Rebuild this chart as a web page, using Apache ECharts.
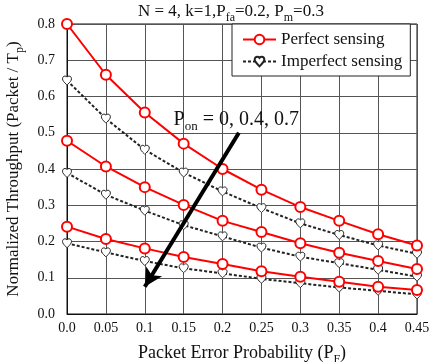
<!DOCTYPE html>
<html>
<head>
<meta charset="utf-8">
<script src="https://cdn.jsdelivr.net/npm/echarts@6/dist/echarts.min.js"></script>
<style>
  html, body { margin: 0; padding: 0; background: #fff; }
  #chart { width: 430px; height: 362px; }
</style>
</head>
<body>
<div id="chart"></div>
<script>
// packet error probability (x) and its tick labels
const xValues = [0, 0.05, 0.1, 0.15, 0.2, 0.25, 0.3, 0.35, 0.4, 0.45];
const xLabels = ['0.0', '0.05', '0.1', '0.15', '0.2', '0.25', '0.3', '0.35', '0.4', '0.45'];

// perfect sensing, Pon = 0, 0.4, 0.7
const perfect0 = [0.80, 0.66, 0.556, 0.47, 0.40, 0.343, 0.295, 0.257, 0.22, 0.189];
const perfect4 = [0.478, 0.407, 0.35, 0.301, 0.257, 0.226, 0.195, 0.169, 0.146, 0.124];
const perfect7 = [0.241, 0.207, 0.181, 0.157, 0.138, 0.118, 0.103, 0.089, 0.075, 0.066];

// imperfect sensing, Pon = 0, 0.4, 0.7
const imperfect0 = [0.644, 0.539, 0.453, 0.39, 0.338, 0.292, 0.25, 0.218, 0.189, 0.166];
const imperfect4 = [0.389, 0.329, 0.285, 0.245, 0.214, 0.183, 0.158, 0.14, 0.122, 0.103];
const imperfect7 = [0.195, 0.17, 0.146, 0.126, 0.112, 0.097, 0.085, 0.073, 0.064, 0.054];

// arrow annotation (data coords)
const arrowFrom = [0.221, 0.50];
const arrowTo = [0.10, 0.075];

const FONT = '"Liberation Serif", "DejaVu Serif", serif';
const HEART = 'path://M12 21.35l-1.45-1.32C5.4 15.36 2 12.28 2 8.5 2 5.42 4.42 3 7.5 3c1.74 0 3.41.81 4.5 2.09C13.09 3.81 14.76 3 16.5 3 19.58 3 22 5.42 22 8.5c0 3.78-3.4 6.86-8.55 11.54L12 21.35z';

const pairs = ys => xValues.map((x, i) => [x, ys[i]]);

function perfectSeries(ys) {
    return {
        name: 'Perfect sensing',
        type: 'line',
        data: pairs(ys),
        symbol: 'emptyCircle',
        symbolSize: 10,
        lineStyle: { color: '#ff0000', width: 2 },
        itemStyle: { color: '#ff0000', borderWidth: 2 },
        z: 4
    };
}

function imperfectSeries(ys) {
    return {
        name: 'Imperfect sensing',
        type: 'line',
        data: pairs(ys),
        symbol: HEART,
        symbolSize: 9,
        lineStyle: { color: '#222', width: 2, type: [3, 2] },
        itemStyle: { color: '#fff', borderColor: '#222', borderWidth: 1 },
        z: 3
    };
}

const chart = echarts.init(document.getElementById('chart'));

const sub = { fontSize: 11, verticalAlign: 'bottom', padding: [0, 0, -4, 0], fontFamily: FONT, color: '#111' };

const option = {
    backgroundColor: '#fff',
    animation: false,
    textStyle: { fontFamily: FONT },
    title: {
        text: 'N = 4, k=1,P{s|fa}=0.2, P{s|m}=0.3',
        left: 138,
        top: 3,
        padding: 0,
        textStyle: {
            fontFamily: FONT, fontSize: 17, fontWeight: 'normal', color: '#111',
            rich: { s: Object.assign({}, sub, { fontSize: 12 }) }
        }
    },
    legend: {
        data: ['Perfect sensing', 'Imperfect sensing'],
        orient: 'vertical',
        left: 232,
        top: 24,
        width: 185,
        padding: [7, 8, 6, 10],
        itemGap: 5,
        itemWidth: 33,
        itemHeight: 12,
        backgroundColor: '#fff',
        borderColor: '#222',
        borderWidth: 1,
        borderRadius: 0,
        textStyle: { fontFamily: FONT, fontSize: 17, color: '#111' }
    },
    grid: {
        left: 67, right: 13, top: 24, bottom: 48,
        outerBoundsMode: 'none',
        containLabel: false,
        show: true, borderColor: '#111', borderWidth: 1
    },
    xAxis: {
        type: 'value',
        min: 0,
        max: 0.45,
        interval: 0.05,
        name: 'Packet Error Probability (P{s|F})',
        nameLocation: 'middle',
        nameGap: 30,
        nameTextStyle: { fontFamily: FONT, fontSize: 18, color: '#111', rich: { s: Object.assign({}, sub, { fontSize: 12 }) } },
        axisLine: { lineStyle: { color: '#111' } },
        axisTick: { show: false },
        axisLabel: {
            fontFamily: FONT, fontSize: 14, color: '#111', margin: 7,
            formatter: v => xLabels[Math.round(v / 0.05)]
        },
        splitLine: { show: true, lineStyle: { color: '#555', width: 1 } }
    },
    yAxis: {
        type: 'value',
        min: 0,
        max: 0.8,
        interval: 0.1,
        name: 'Normalized Throughput (Packet / T{s|p})',
        nameLocation: 'middle',
        nameGap: 45,
        nameTextStyle: { fontFamily: FONT, fontSize: 17, color: '#111', rich: { s: Object.assign({}, sub, { fontSize: 12 }) } },
        axisLine: { show: true, lineStyle: { color: '#111' } },
        axisTick: { show: false },
        axisLabel: {
            fontFamily: FONT, fontSize: 14, color: '#111', margin: 12,
            formatter: v => v.toFixed(1)
        },
        splitLine: { show: true, lineStyle: { color: '#555', width: 1 } }
    },
    series: [
        perfectSeries(perfect0),
        perfectSeries(perfect4),
        perfectSeries(perfect7),
        imperfectSeries(imperfect0),
        imperfectSeries(imperfect4),
        imperfectSeries(imperfect7),
        {
            name: 'arrow',
            type: 'line',
            data: [],
            z: 6,
            markLine: {
                silent: true,
                symbol: ['none', 'arrow'],
                symbolSize: [14, 18],
                lineStyle: { color: '#000', width: 4, type: 'solid' },
                label: { show: false },
                data: [[{ coord: arrowFrom }, { coord: arrowTo }]]
            }
        }
    ]
};

chart.setOption(option);

// P_on label sitting just above the arrow start
const labelAt = chart.convertToPixel({ gridIndex: 0 }, [0.137, 0.535]);
chart.setOption({
    graphic: [{
        type: 'text',
        x: labelAt[0],
        y: labelAt[1],
        z: 10,
        style: {
            text: 'P{s|on} = 0, 0.4, 0.7',
            font: '20px ' + FONT,
            fill: '#111',
            verticalAlign: 'middle',
            rich: { s: { fontSize: 13, fontFamily: FONT, fill: '#111', verticalAlign: 'bottom', padding: [0, 0, -3, 0] } }
        }
    }]
});
</script>
</body>
</html>
